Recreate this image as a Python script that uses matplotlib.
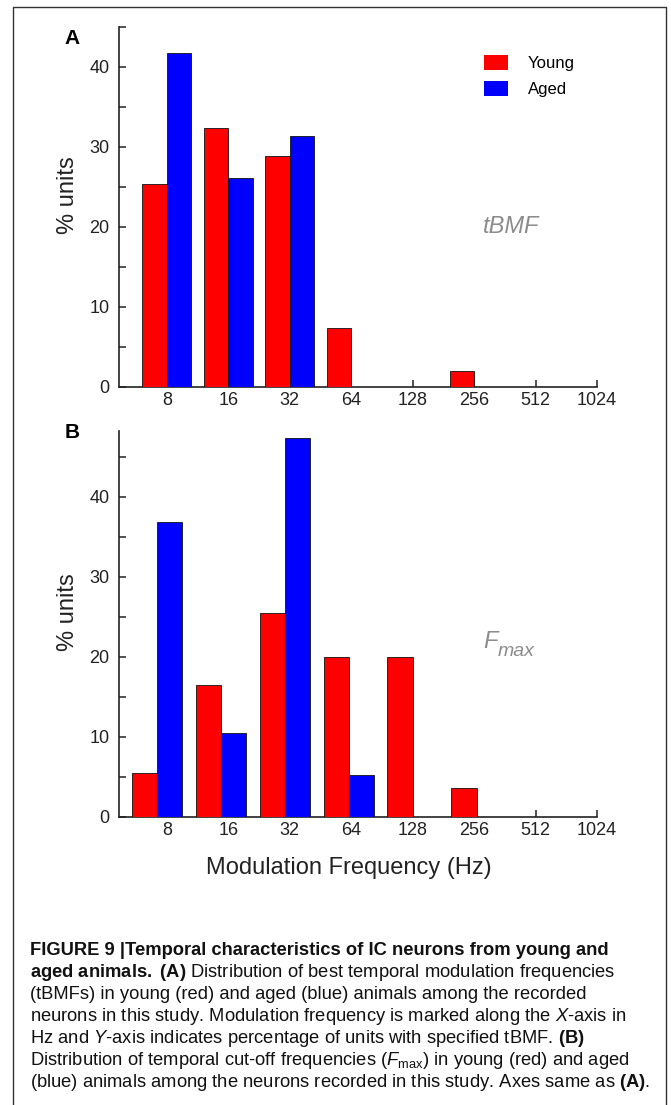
import matplotlib
matplotlib.use('Agg')
import matplotlib.pyplot as plt
from matplotlib.patches import Patch
from matplotlib.lines import Line2D
import numpy as np

# ---------------- data ----------------
freq_labels = ['8', '16', '32', '64', '128', '256', '512', '1024']
young_tbmf = [25.4, 32.4, 28.9, 7.3, 0, 1.9, 0, 0]
aged_tbmf = [41.7, 26.1, 31.3, 0, 0, 0, 0, 0]
young_fmax = [5.5, 16.4, 25.5, 20.0, 20.0, 3.6, 0, 0]
aged_fmax = [36.8, 10.5, 47.3, 5.2, 0, 0, 0, 0]
series_names = ['Young', 'Aged']
series_colors = ['#ff0000', '#0000ff']

caption_lines = [
    "FIGURE 9 |Temporal characteristics of IC neurons from young and",
    r"$\mathbf{aged\ animals.\ (A)}$ Distribution of best temporal modulation frequencies",
    "(tBMFs) in young (red) and aged (blue) animals among the recorded",
    r"neurons in this study. Modulation frequency is marked along the $\mathit{X}$-axis in",
    r"Hz and $\mathit{Y}$-axis indicates percentage of units with specified tBMF. $\mathbf{(B)}$",
    r"Distribution of temporal cut-off frequencies ($\mathit{F}_{\mathrm{max}}$) in young (red) and aged",
    r"(blue) animals among the neurons recorded in this study. Axes same as $\mathbf{(A)}$.",
]

# ---------------- setup ----------------
FONT = 'Liberation Sans'
plt.rcParams['font.family'] = [FONT, 'DejaVu Sans']
plt.rcParams['mathtext.fontset'] = 'custom'
plt.rcParams['mathtext.rm'] = FONT
plt.rcParams['mathtext.it'] = FONT + ':italic'
plt.rcParams['mathtext.bf'] = FONT + ':bold'

W, H = 671, 1105
fig = plt.figure(figsize=(W / 100, H / 100), dpi=100)
fig.patch.set_facecolor('white')


def fx(px):
    return px / W


def fy(py):
    return 1 - py / H


AX_L, AX_R = 119, 597
INK = '#222222'


def make_panel(top_px, bottom_px, ymax, young, aged, width, spacing, offset):
    ax = fig.add_axes([fx(AX_L), fy(bottom_px), fx(AX_R) - fx(AX_L), fy(top_px) - fy(bottom_px)])
    idx = np.arange(len(freq_labels))
    centers = idx * spacing + offset
    for vals, color, side in ((young, series_colors[0], -1), (aged, series_colors[1], 1)):
        vals = np.asarray(vals, float)
        m = vals > 0
        ax.bar(centers[m] + side * width / 2, vals[m], width=width, color=color,
               edgecolor='#111111', linewidth=0.6, zorder=3)
    ax.set_xlim(-0.78, 7)
    ax.set_ylim(0, ymax)
    ax.set_xticks(idx, freq_labels)
    ax.set_yticks([0, 10, 20, 30, 40])
    ax.set_yticks(np.arange(5, ymax + 0.01, 10), minor=True)
    ax.tick_params(which='both', direction='in', length=5, width=1.1, labelsize=13,
                   color=INK, labelcolor=INK)
    ax.tick_params(axis='x', pad=4)
    ax.tick_params(axis='y', pad=7)
    for s in ('top', 'right'):
        ax.spines[s].set_visible(False)
    for s in ('left', 'bottom'):
        ax.spines[s].set_linewidth(1.2)
        ax.spines[s].set_color(INK)
    ax.set_axisbelow(True)
    ax.patch.set_visible(False)
    return ax


axA = make_panel(27, 386.5, 45, young_tbmf, aged_tbmf, 0.40, 1.0, 0.0)
axB = make_panel(431, 816.5, 48.2, young_fmax, aged_fmax, 0.41, 1.04, -0.16)

# y labels, x label, panel letters
for yc in (195, 612):
    fig.text(fx(68), fy(yc), '% units', rotation=90, ha='center', va='center',
             fontsize=17, color=INK)
fig.text(fx(349), fy(868), 'Modulation Frequency (Hz)', ha='center', va='center',
         fontsize=17, color=INK)
fig.text(fx(72), fy(39), 'A', ha='center', va='center', fontsize=15, weight='bold')
fig.text(fx(72), fy(433), 'B', ha='center', va='center', fontsize=15, weight='bold')

# legend
handles = [Patch(facecolor=c, edgecolor='none', label=n) for n, c in zip(series_names, series_colors)]
fig.legend(handles=handles, loc='upper left', bbox_to_anchor=(fx(483.5), fy(55)),
           bbox_transform=fig.transFigure, frameon=False, fontsize=12,
           handlelength=1.45, handleheight=1.05, handletextpad=1.2, labelspacing=0.55,
           borderpad=0, borderaxespad=0)

# in-panel annotations
GRAY = '#8c8c8c'
fig.text(fx(483), fy(227), 'tBMF', style='italic', color=GRAY, fontsize=17, ha='left', va='center')
fig.text(fx(483), fy(648), 'F', style='italic', color=GRAY, fontsize=17, ha='left', va='baseline')
fig.text(fx(498), fy(656), 'max', style='italic', color=GRAY, fontsize=14, ha='left', va='baseline')

# frame around figure
fig.add_artist(Line2D([fx(13), fx(13), fx(666), fx(666)], [fy(1110), fy(7), fy(7), fy(1110)],
                      transform=fig.transFigure, color='#333333', lw=1.0))

# caption, auto-fit size so the last line spans the measured width
renderer = fig.canvas.get_renderer()
probe = fig.text(0, 0, caption_lines[-1], fontsize=12)
w = probe.get_window_extent(renderer).width
probe.remove()
cap_size = 12 * 618 / w
for i, line in enumerate(caption_lines):
    kw = dict(fontsize=cap_size, ha='left', va='baseline', color='#111111')
    if i == 0:
        kw['weight'] = 'bold'
    fig.text(fx(30), fy(955 + 22 * i), line, **kw)

fig.savefig('out.png', dpi=100, facecolor='white')
